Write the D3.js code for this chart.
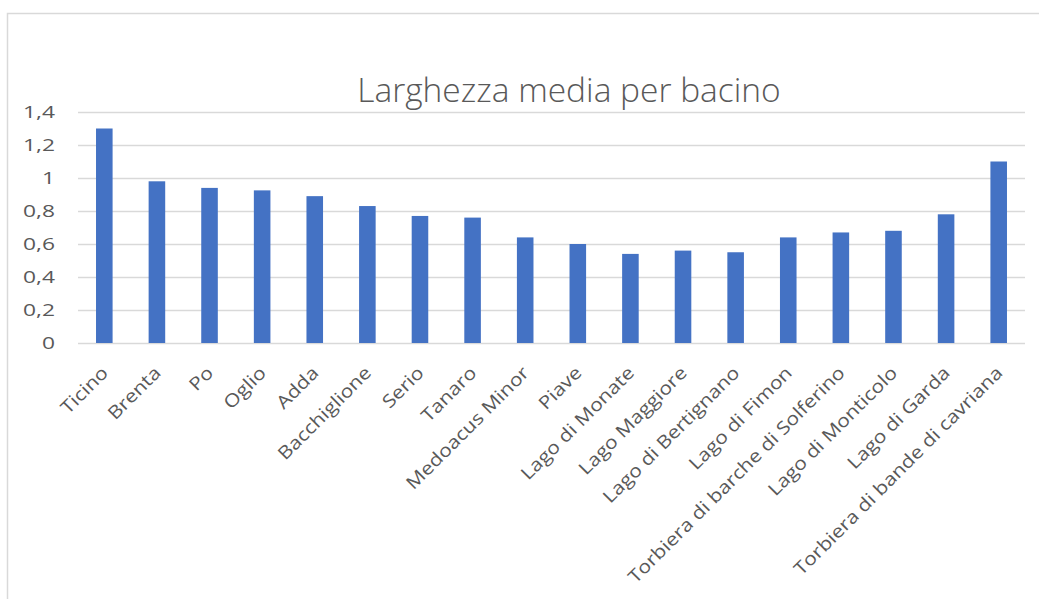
<!DOCTYPE html>
<html>
<head>
<meta charset="utf-8">
<script src="https://cdn.jsdelivr.net/npm/d3@7"></script>
<style>
  html, body { margin: 0; padding: 0; background: #fff; }
  svg { display: block; }
  text { font-family: "Open Sans", "Noto Sans", sans-serif; fill: #595959; }
</style>
</head>
<body>
<script>
// Average width per basin
const categories = [
  "Ticino", "Brenta", "Po", "Oglio", "Adda", "Bacchiglione", "Serio", "Tanaro",
  "Medoacus Minor", "Piave", "Lago di Monate", "Lago Maggiore", "Lago di Bertignano",
  "Lago di Fimon", "Torbiera di barche di Solferino", "Lago di Monticolo",
  "Lago di Garda", "Torbiera di bande di cavriana"
];
const values = [1.3, 0.98, 0.94, 0.925, 0.89, 0.83, 0.77, 0.76, 0.64, 0.6, 0.54, 0.56, 0.55, 0.64, 0.67, 0.68, 0.78, 1.1];
const yTicks = [0, 0.2, 0.4, 0.6, 0.8, 1, 1.2, 1.4];
const title = "Larghezza media per bacino";

const W = 1039, H = 599;
const plot = { left: 78, right: 1025, top: 112, bottom: 343 };

const svg = d3.select("body").append("svg").attr("width", W).attr("height", H);

// chart area frame
svg.append("path")
  .attr("d", `M7.5,${H} V13.5 H${W}`)
  .attr("fill", "none").attr("stroke", "#d9d9d9").attr("stroke-width", 1.5);

const x = d3.scaleBand().domain(categories).range([plot.left, plot.right]).paddingInner(0.685).paddingOuter(0.3425);
const y = d3.scaleLinear().domain([0, 1.4]).range([plot.bottom, plot.top]);

const fmt = v => String(+v.toFixed(1)).replace(".", ",");

// horizontal gridlines + value labels
const yAxis = d3.axisLeft(y).tickValues(yTicks).tickFormat(fmt)
  .tickSize(-(plot.right - plot.left)).tickPadding(0);
const gy = svg.append("g").attr("transform", `translate(${plot.left},0)`).call(yAxis);
gy.select(".domain").remove();
gy.selectAll(".tick line").attr("stroke", "#d9d9d9").attr("stroke-width", 1.3);
gy.selectAll(".tick text")
  .attr("font-size", 16.5).attr("fill", "#595959")
  .style("font-family", "'Open Sans', sans-serif")
  .attr("x", 0).attr("dy", "0.36em")
  .attr("transform", "translate(-23,0) scale(1.38,1)");

// bars
svg.append("g").selectAll("rect").data(categories).join("rect")
  .attr("x", d => x(d))
  .attr("width", x.bandwidth())
  .attr("y", (d, i) => y(values[i]))
  .attr("height", (d, i) => y(0) - y(values[i]))
  .attr("fill", "#4472c4");

// category labels, rotated
const xAxis = d3.axisBottom(x).tickSize(0).tickPadding(0);
const gx = svg.append("g").attr("transform", `translate(0,${plot.bottom})`).call(xAxis);
gx.select(".domain").remove();
gx.selectAll(".tick text")
  .attr("font-size", 18).attr("fill", "#595959")
  .style("font-family", "'Open Sans', sans-serif")
  .attr("text-anchor", "end")
  .attr("dy", null).attr("y", 0).attr("x", 0)
  .attr("transform", "translate(5,31) rotate(-45) scale(1.17,1)");

// title
svg.append("text")
  .attr("x", 569).attr("y", 102)
  .attr("text-anchor", "middle")
  .attr("font-size", 33.5)
  .style("font-family", "'Open Sans', sans-serif")
  .style("font-weight", 300)
  .text(title);
</script>
</body>
</html>
